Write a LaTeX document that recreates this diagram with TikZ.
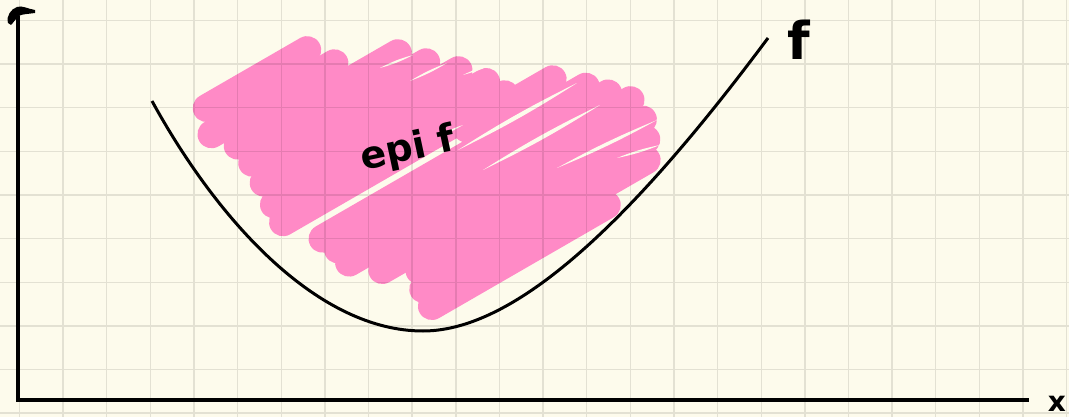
\documentclass[tikz,border=0pt]{standalone}
\usepackage{fontspec}
\newfontfamily\hand{DejaVu Sans}
\usetikzlibrary{calc}
\definecolor{paper}{RGB}{253,251,236}
\definecolor{scribble}{RGB}{255,138,198}
\begin{document}
\begin{tikzpicture}[x=1pt,y=-1pt,
  gridline/.style={black,opacity=0.1,line width=1.4pt},
  axis/.style={black,line width=3.6pt},
  pinkstroke/.style={scribble,line width=28pt,line cap=round},
  gapfill/.style={fill=paper},
  curve/.style={black,line width=3pt},
  handlabel/.style={inner sep=0pt,text=black}]
\useasboundingbox (0,0) rectangle (1069,417);
\fill[paper] (0,0) rectangle (1069,417);
% pink scribble (epigraph)
\foreach \n/\a/\b in {197/125/241, 222/116/258, 245/133/318, 267/137/338, 290/137/362, 314/135/380, 334/134/390, 345/340/439, 368/160/464, 385/168/480, 402/171/496, 425/196/497, 444/228/490, 462/222/480, 481/221/423}
  \draw[pinkstroke] ({0.866*\a+0.5*\n},{-0.5*\a+0.866*\n}) -- ({0.866*\b+0.5*\n},{-0.5*\b+0.866*\n});
% thin gaps between strokes
\foreach \ax/\ay/\bx/\by/\bd in {380/68/413/55/6, 410/81/447/63/5, 463/75/500/61/5, 437/137/463/125/6, 458/150/577/83/3, 483/170/600/105/3, 557/168/657/120/3, 617/158/660/145/5}
  \fill[gapfill] (\ax,\ay) to[bend left=\bd] (\bx,\by) to[bend left=\bd] (\ax,\ay);
% grid
\draw[gridline] \foreach \i in {0,...,24} {({19.5+43.63*\i},0) -- ({19.5+43.63*\i},417)}
                \foreach \j in {0,...,9} {(0,{20.5+43.63*\j}) -- (1069,{20.5+43.63*\j})};
% axes
\coordinate (top) at (18,16);
\coordinate (origin) at (18,400);
\coordinate (xend) at (1029,400);
\draw[axis] (top) -- (origin) -- (xend);
\fill[black] (8,23) .. controls (6,16) and (11,9) .. (17,7) .. controls (22,5) and (28,9) .. (35,10)
  -- (35,13) .. controls (28,14) and (23,14) .. (20,15.5) .. controls (16,18) and (14,22) .. (11,25) -- cycle;
% function curve
\coordinate (fstart) at (152,101);
\coordinate (fmin) at (423,331);
\coordinate (fend) at (768,38);
\draw[curve] (fstart) .. controls (220,225) and (320,331) .. (fmin)
                      .. controls (520,331) and (640,210) .. (fend);
% labels
\node[handlabel, font=\hand\bfseries\fontsize{38}{38}\selectfont, rotate=12] (epi) at (408,150) {epi f};
\node[handlabel, font=\hand\bfseries\fontsize{52}{52}\selectfont] (flabel) at (799,40) {f};
\node[handlabel, font=\hand\bfseries\fontsize{28}{28}\selectfont] (xlabel) at (1057,404) {x};
\end{tikzpicture}
\end{document}
